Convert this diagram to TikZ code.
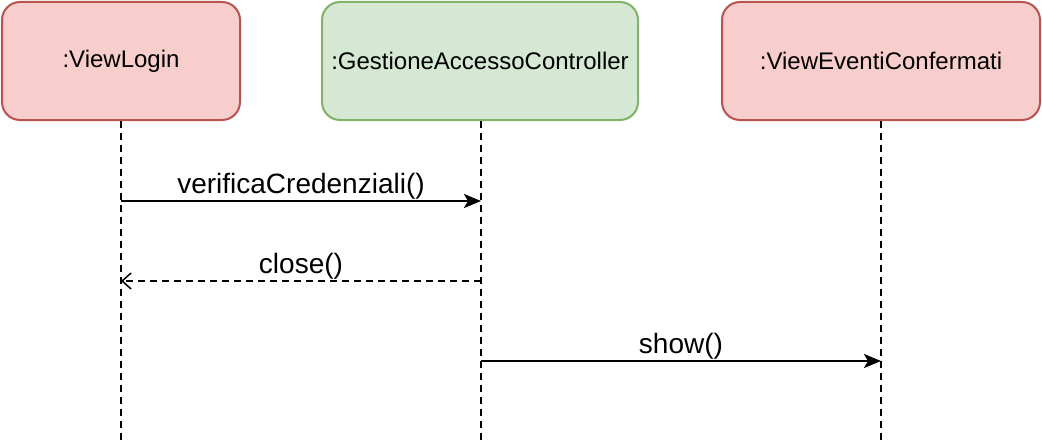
\documentclass[tikz,border=0pt]{standalone}
\usepackage{fontspec}
\setmainfont{Liberation Sans}
\usetikzlibrary{arrows.meta,positioning}
\tikzset{>={Stealth[length=17pt,width=14pt,inset=4pt]}}
\definecolor{redFill}{HTML}{F8CECC}
\definecolor{redLine}{HTML}{B85450}
\definecolor{greenFill}{HTML}{D5E8D4}
\definecolor{greenLine}{HTML}{82B366}
\tikzset{
  objbox/.style={draw, line width=2pt, rounded corners=18pt, minimum height=118pt, inner sep=0pt, font=\fontsize{24}{28}\selectfont},
  lifeline/.style={dashed, dash pattern=on 7pt off 5pt, line width=2pt},
  msglabel/.style={font=\fontsize{28}{32}\selectfont, above, inner sep=1pt}
}
\begin{document}
\begin{tikzpicture}[x=1pt,y=-1pt]
\useasboundingbox (0,0) rectangle (1042,444);
\node[objbox, fill=redFill, draw=redLine, minimum width=238pt] (login) at (121,61) {:ViewLogin};
\node[objbox, fill=greenFill, draw=greenLine, minimum width=316pt] (ctrl) at (480,61) {:GestioneAccessoController};
\node[objbox, fill=redFill, draw=redLine, minimum width=318pt] (eventi) at (881,61) {:ViewEventiConfermati};
% lifelines
\coordinate (loginEnd) at (121,444);
\coordinate (ctrlEnd) at (481,444);
\coordinate (eventiEnd) at (881,444);
\draw[lifeline] (login.south) -- (loginEnd);
\draw[lifeline] (ctrl.south -| ctrlEnd) -- (ctrlEnd);
\draw[lifeline] (eventi.south) -- (eventiEnd);
% messages
\coordinate (m1a) at (121,201);
\coordinate (m1b) at (481,201);
\coordinate (m2a) at (481,281);
\coordinate (m2b) at (121,281);
\coordinate (m3a) at (481,361);
\coordinate (m3b) at (881,361);
\draw[->, line width=2pt] (m1a) -- (m1b) node[msglabel, midway] {verificaCredenziali()};
\draw[-{Straight Barb[length=9pt,width=16pt,line width=1.5pt]}, dashed, dash pattern=on 7pt off 5pt, line width=2pt] (m2a) -- (m2b) node[msglabel, midway] {close()};
\draw[->, line width=2pt] (m3a) -- (m3b) node[msglabel, midway] {show()};
\end{tikzpicture}
\end{document}
